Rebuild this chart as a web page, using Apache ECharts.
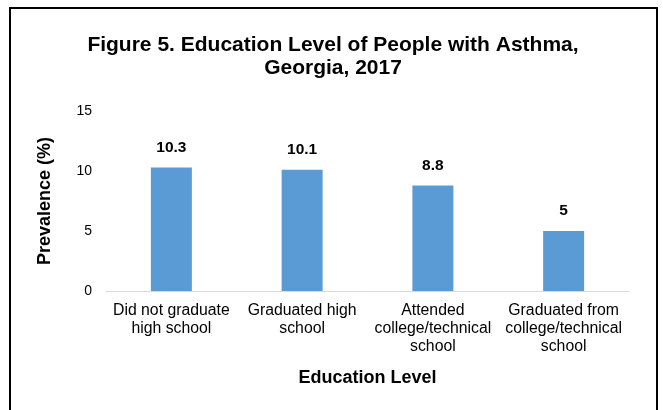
<!DOCTYPE html>
<html>
<head>
<meta charset="utf-8">
<script src="https://cdn.jsdelivr.net/npm/echarts@6/dist/echarts.min.js"></script>
<style>
html,body{margin:0;padding:0;background:#fff;}
#c{width:663px;height:410px;}
</style>
</head>
<body>
<div id="c"></div>
<script>
var categories = ["Did not graduate\nhigh school", "Graduated high\nschool", "Attended\ncollege/technical\nschool", "Graduated from\ncollege/technical\nschool"];
var values = [10.3, 10.1, 8.8, 5];
var yTicks = [0, 5, 10, 15];

var chart = echarts.init(document.getElementById('c'), null, {renderer: 'canvas'});
var font = '"Liberation Sans", Arial, sans-serif';
chart.setOption({
  backgroundColor: '#fff',
  animation: false,
  title: {
    text: 'Figure 5. Education Level of People with Asthma,\nGeorgia, 2017',
    left: 328,
    top: 29,
    textAlign: 'center',
    textStyle: {fontFamily: font, fontSize: 21, fontWeight: 'bold', color: '#000', lineHeight: 23}
  },
  graphic: [{
    type: 'rect',
    shape: {x: 10, y: 8, width: 647, height: 430},
    style: {fill: 'none', stroke: '#000', lineWidth: 2},
    silent: true
  }],
  grid: {left: 106, right: 34, top: 111, bottom: 119},
  xAxis: {
    type: 'category',
    data: categories,
    name: 'Education Level',
    nameLocation: 'middle',
    nameGap: 78,
    nameTextStyle: {fontFamily: font, fontSize: 18, fontWeight: 'bold', color: '#000'},
    axisLine: {lineStyle: {color: '#D9D9D9', width: 1}},
    axisTick: {show: false},
    axisLabel: {fontFamily: font, fontSize: 15.8, color: '#000', lineHeight: 18, margin: 11, interval: 0}
  },
  yAxis: {
    type: 'value',
    min: yTicks[0],
    max: yTicks[yTicks.length - 1],
    interval: 5,
    name: 'Prevalence (%)',
    nameLocation: 'middle',
    nameGap: 52,
    nameTextStyle: {fontFamily: font, fontSize: 18, fontWeight: 'bold', color: '#000'},
    axisLine: {show: false},
    axisTick: {show: false},
    splitLine: {show: false},
    axisLabel: {fontFamily: font, fontSize: 14, color: '#000', margin: 14}
  },
  series: [{
    type: 'bar',
    data: values,
    barWidth: 41,
    itemStyle: {color: '#5B9BD5'},
    label: {
      show: true,
      position: 'top',
      distance: 12,
      fontFamily: font,
      fontSize: 15.5,
      fontWeight: 'bold',
      color: '#000'
    }
  }]
});
</script>
</body>
</html>
